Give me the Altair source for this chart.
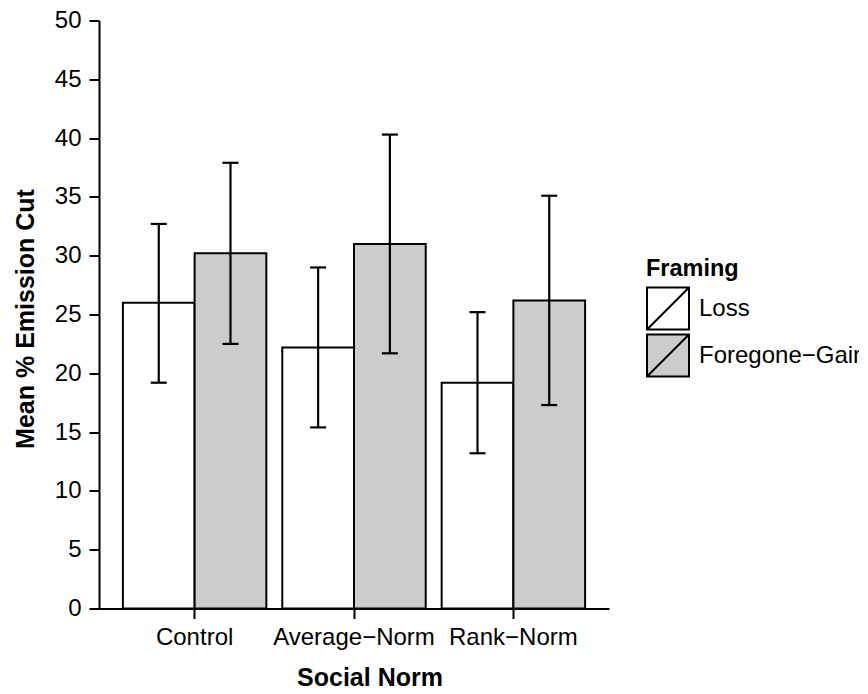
import altair as alt
import pandas as pd

norms = ["Control", "Average\u2212Norm", "Rank\u2212Norm"]
framings = ["Loss", "Foregone\u2212Gain"]
loss_mean = [26.0, 22.2, 19.2]
gain_mean = [30.2, 31.0, 26.2]
loss_low = [19.2, 15.4, 13.2]
loss_high = [32.7, 29.0, 25.2]
gain_low = [22.5, 21.7, 17.3]
gain_high = [37.9, 40.3, 35.1]
y_ticks = list(range(0, 51, 5))

rows = []
for i, n in enumerate(norms):
    rows.append({"norm": n, "framing": framings[0], "mean": loss_mean[i], "low": loss_low[i], "high": loss_high[i]})
    rows.append({"norm": n, "framing": framings[1], "mean": gain_mean[i], "low": gain_low[i], "high": gain_high[i]})
df = pd.DataFrame(rows)

FONT = "Liberation Sans"

x_enc = alt.X("norm:N", sort=norms,
              scale=alt.Scale(paddingInner=0.1, paddingOuter=0.15),
              axis=alt.Axis(title="Social Norm", labelAngle=0, labelFontSize=24, labelFont=FONT,
                            labelColor="black", labelPadding=7, tickSize=10, tickWidth=2,
                            tickColor="black", domainColor="black", domainWidth=2,
                            titleFont=FONT, titleFontSize=25, titleFontWeight="bold",
                            titleColor="black", titleX=270.5, titleY=77,
                            titleAlign="center", titleBaseline="alphabetic"))
xoff = alt.XOffset("framing:N", sort=framings, scale=alt.Scale(paddingInner=0, paddingOuter=0))
y_scale = alt.Scale(domain=[0, 50], nice=False, zero=True)
y_axis = alt.Axis(title="Mean % Emission Cut", values=y_ticks, grid=False, labelFontSize=24,
                  labelFont=FONT, labelColor="black", labelPadding=8, tickSize=10, tickWidth=2,
                  tickColor="black", domainColor="black", domainWidth=2,
                  titleFont=FONT, titleFontSize=25, titleFontWeight="bold", titleColor="black",
                  titleAngle=270, titleX=-66, titleY=298, titleAlign="center",
                  titleBaseline="alphabetic")

bars = alt.Chart(df).mark_bar(stroke="black", strokeWidth=2, opacity=1).encode(
    x=x_enc,
    xOffset=xoff,
    y=alt.Y("mean:Q", scale=y_scale, axis=y_axis),
    fill=alt.Fill("framing:N", sort=framings,
                  scale=alt.Scale(domain=framings, range=["white", "#cccccc"]),
                  legend=alt.Legend(title="Framing", orient="none", legendX=547, legendY=236.5,
                                    padding=0, titleFont=FONT, titleFontSize=23.5,
                                    titleFontWeight="bold", titleColor="black",
                                    titleBaseline="top", titlePadding=6,
                                    labelFont=FONT, labelFontSize=24, labelColor="black",
                                    labelOffset=9, labelLimit=0, rowPadding=-20,
                                    symbolType="M-1,-1H1V1H-1Z M-1,1L1,-1",
                                    symbolSize=1764, symbolStrokeColor="black",
                                    symbolStrokeWidth=2, symbolOpacity=1)),
)

rules = alt.Chart(df).mark_rule(color="black", strokeWidth=2.2).encode(
    x=alt.X("norm:N", sort=norms), xOffset=xoff,
    y=alt.Y("low:Q", scale=y_scale), y2="high:Q",
)
caps_low = alt.Chart(df).mark_tick(color="black", size=16, thickness=2.2, opacity=1).encode(
    x=alt.X("norm:N", sort=norms), xOffset=xoff, y=alt.Y("low:Q", scale=y_scale),
)
caps_high = alt.Chart(df).mark_tick(color="black", size=16, thickness=2.2, opacity=1).encode(
    x=alt.X("norm:N", sort=norms), xOffset=xoff, y=alt.Y("high:Q", scale=y_scale),
)

chart = alt.layer(bars, rules, caps_low, caps_high).properties(
    width=510, height=588,
    autosize=alt.AutoSizeParams(type="none"),
    padding={"left": 91, "top": 12.5, "right": 250, "bottom": 77},
).configure_view(strokeWidth=0, stroke="transparent")

chart.save("out.html", embed_options={"renderer": "svg", "actions": False})
